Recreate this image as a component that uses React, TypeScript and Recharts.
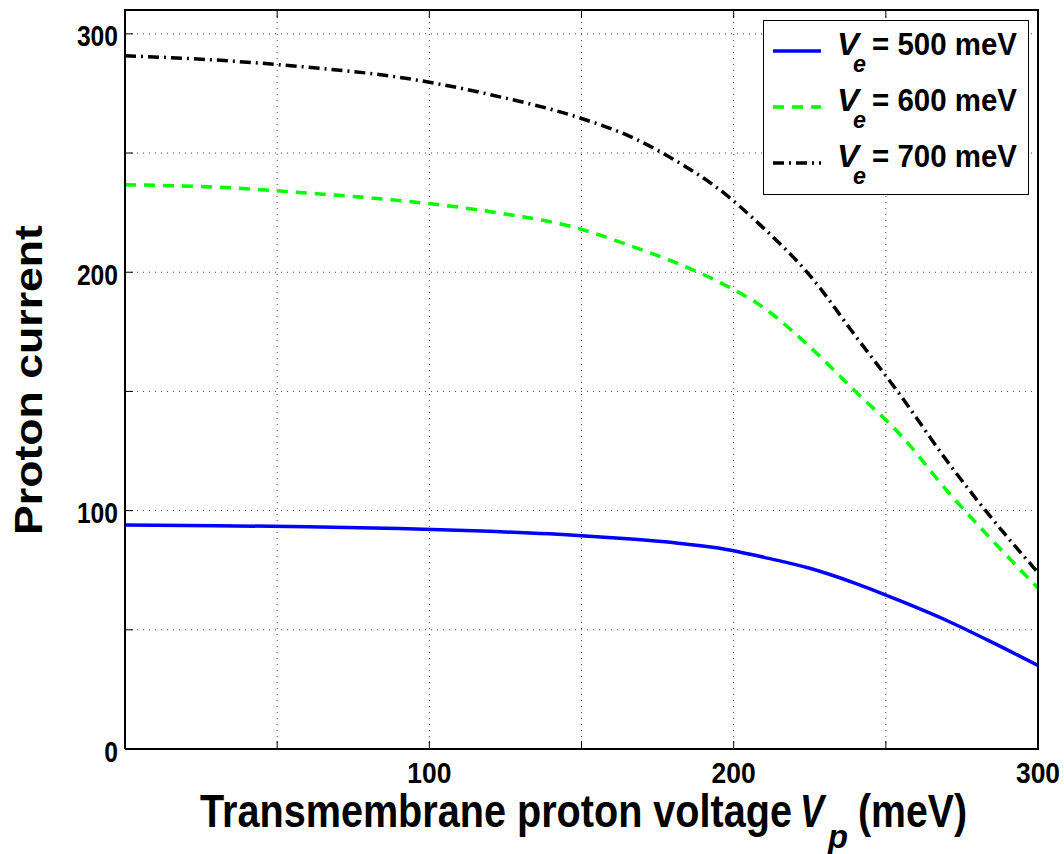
import React from "react";
import {
  LineChart,
  Line,
  XAxis,
  YAxis,
  CartesianGrid,
  Legend
} from "recharts";

// transmembrane proton voltage Vp (meV)
const vp = [0, 30, 60, 90, 120, 150, 165, 180, 195, 210, 225, 240, 255, 270, 285, 300];
// proton current for each Ve
const current500 = [94.0, 93.7, 93.2, 92.5, 91.3, 89.5, 88.2, 86.6, 84.3, 80.4, 75.8, 69.5, 62.0, 53.9, 44.7, 35.0];
const current600 = [236.7, 235.7, 233.2, 230.1, 225.4, 218.0, 211.6, 204.5, 196.0, 185.0, 168.7, 150.0, 131.5, 108.5, 87.5, 67.5];
const current700 = [290.8, 289.0, 286.0, 281.8, 274.5, 264.5, 257.5, 247.5, 235.0, 218.3, 198.7, 173.3, 148.0, 121.0, 96.5, 74.0];

const xTicks = [0, 50, 100, 150, 200, 250, 300];
const xLabels = [100, 200, 300];
const yTicks = [0, 50, 100, 150, 200, 250, 300];
const yLabels = [0, 100, 200, 300];
const legendNames = ["500 meV", "600 meV", "700 meV"];

const rows = vp.map((v, i) => ({
  vp: v,
  i500: current500[i],
  i600: current600[i],
  i700: current700[i]
}));

const FONT = "'Liberation Sans', Arial, Helvetica, sans-serif";
const TICK_LEN = 8;

const series = [
  { key: "i500", color: "#0000ff", dash: undefined },
  { key: "i600", color: "#00ff00", dash: "11 8" },
  { key: "i700", color: "#000000", dash: "11 5 2 5" }
];

function BottomTick(props: any) {
  const { x, y, payload } = props;
  const v = payload.value;
  const label = xLabels.includes(v) ? String(v) : null;
  return (
    <g>
      <line x1={x} x2={x} y1={y} y2={y - TICK_LEN} stroke="#000" strokeWidth={1} />
      {label && (
        <text
          x={x}
          y={y + 34}
          textAnchor="middle"
          fontFamily={FONT}
          fontWeight="bold"
          fontSize={29}
          textLength={label.length * 14.7}
          lengthAdjust="spacingAndGlyphs"
          fill="#000"
        >
          {label}
        </text>
      )}
    </g>
  );
}

function TopTick(props: any) {
  const { x, y } = props;
  return <line x1={x} x2={x} y1={y} y2={y + TICK_LEN} stroke="#000" strokeWidth={1} />;
}

function LeftTick(props: any) {
  const { x, y, payload } = props;
  const v = payload.value;
  const label = yLabels.includes(v) ? String(v) : null;
  return (
    <g>
      <line x1={x} x2={x + TICK_LEN} y1={y} y2={y} stroke="#000" strokeWidth={1} />
      {label && (
        <text
          x={x - 7}
          y={y + 12.5}
          textAnchor="end"
          fontFamily={FONT}
          fontWeight="bold"
          fontSize={30}
          textLength={label.length * 13.7}
          lengthAdjust="spacingAndGlyphs"
          fill="#000"
        >
          {label}
        </text>
      )}
    </g>
  );
}

function RightTick(props: any) {
  const { x, y } = props;
  return <line x1={x} x2={x - TICK_LEN} y1={y} y2={y} stroke="#000" strokeWidth={1} />;
}

function XTitle() {
  return (
    <text fontFamily={FONT} fontWeight="bold" fill="#000" fontSize={47}>
      <tspan x={200} y={827} textLength={592} lengthAdjust="spacingAndGlyphs">
        Transmembrane proton voltage
      </tspan>
      <tspan x={800} y={827} fontStyle="italic" textLength={24} lengthAdjust="spacingAndGlyphs">
        V
      </tspan>
      <tspan x={828} y={848} fontSize={34} fontStyle="italic" textLength={20} lengthAdjust="spacingAndGlyphs">
        p
      </tspan>
      <tspan x={858} y={827} textLength={109} lengthAdjust="spacingAndGlyphs">
        (meV)
      </tspan>
    </text>
  );
}

function YTitle() {
  return (
    <text
      x={0}
      y={0}
      transform="translate(42,535) rotate(-90)"
      fontFamily={FONT}
      fontWeight="bold"
      fontSize={39}
      textLength={310}
      lengthAdjust="spacingAndGlyphs"
      fill="#000"
    >
      Proton current
    </text>
  );
}

function LegendBox() {
  const rowY = [31, 87, 143];
  return (
    <svg width={266} height={175} style={{ display: "block" }}>
      <rect x={0.5} y={0.5} width={265} height={174} fill="#fff" stroke="#000" strokeWidth={1} />
      {series.map((s, i) => (
        <g key={s.key}>
          <line
            x1={10}
            x2={58}
            y1={rowY[i]}
            y2={rowY[i]}
            stroke={s.color}
            strokeWidth={3.5}
            strokeDasharray={s.dash}
          />
          <text fontFamily={FONT} fontWeight="bold" fill="#000" fontSize={31}>
            <tspan x={74} y={rowY[i] + 4} fontStyle="italic" textLength={22} lengthAdjust="spacingAndGlyphs">
              V
            </tspan>
            <tspan x={90} y={rowY[i] + 21} fontSize={23} fontStyle="italic" textLength={13} lengthAdjust="spacingAndGlyphs">
              e
            </tspan>
            <tspan x={109} y={rowY[i] + 4} textLength={145} lengthAdjust="spacingAndGlyphs">
              {"= " + legendNames[i]}
            </tspan>
          </text>
        </g>
      ))}
    </svg>
  );
}

export default function App() {
  return (
    <div style={{ position: "absolute", left: 0, top: 0, width: 1064, height: 854, background: "#fff" }}>
      <LineChart width={1064} height={854} data={rows} margin={{ top: 0, right: 16, bottom: 0, left: 0 }}>
        <CartesianGrid xAxisId="b" yAxisId="l" stroke="#444" strokeDasharray="1 5" strokeWidth={1} />
        <XAxis
          xAxisId="b"
          dataKey="vp"
          type="number"
          domain={[0, 300]}
          ticks={xTicks}
          interval={0}
          height={105}
          tickSize={0}
          tickMargin={0}
          tickLine={false}
          axisLine={{ stroke: "#000", strokeWidth: 2 }}
          tick={<BottomTick />}
        />
        <XAxis
          xAxisId="t"
          orientation="top"
          dataKey="vp"
          type="number"
          domain={[0, 300]}
          ticks={xTicks}
          interval={0}
          height={10}
          tickSize={0}
          tickMargin={0}
          tickLine={false}
          axisLine={{ stroke: "#000", strokeWidth: 2 }}
          tick={<TopTick />}
        />
        <YAxis
          yAxisId="l"
          type="number"
          domain={[0, 310]}
          ticks={yTicks}
          interval={0}
          width={125}
          tickSize={0}
          tickMargin={0}
          tickLine={false}
          axisLine={{ stroke: "#000", strokeWidth: 2 }}
          tick={<LeftTick />}
        />
        <YAxis
          yAxisId="r"
          orientation="right"
          type="number"
          domain={[0, 310]}
          ticks={yTicks}
          interval={0}
          width={10}
          tickSize={0}
          tickMargin={0}
          tickLine={false}
          axisLine={{ stroke: "#000", strokeWidth: 2 }}
          tick={<RightTick />}
        />
        {series.map((s) => (
          <Line
            key={s.key}
            xAxisId="b"
            yAxisId="l"
            type="monotone"
            dataKey={s.key}
            stroke={s.color}
            strokeWidth={3.5}
            strokeDasharray={s.dash}
            dot={false}
            activeDot={false}
            isAnimationActive={false}
          />
        ))}
        <Legend
          layout="vertical"
          align="center"
          verticalAlign="middle"
          content={() => <LegendBox />}
          wrapperStyle={{ position: "absolute", left: 763, top: 20, width: 266, height: 175 }}
        />
        <XTitle />
        <YTitle />
      </LineChart>
      {/* frame edges at the top and right of the plot area */}
      <div
        style={{
          position: "absolute",
          left: 124,
          top: 9,
          width: 915,
          height: 741,
          boxSizing: "border-box",
          borderTop: "2px solid #000",
          borderRight: "2px solid #000",
          pointerEvents: "none"
        }}
      />
    </div>
  );
}
